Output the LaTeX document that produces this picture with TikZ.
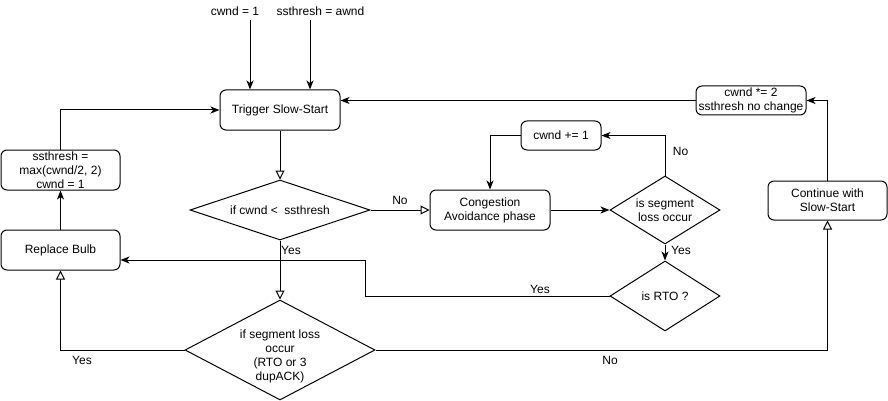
\documentclass[tikz,border=0pt]{standalone}
\usepackage{fontspec}
\setmainfont{Liberation Sans}
\usetikzlibrary{shapes.geometric,arrows.meta}
\begin{document}
\begin{tikzpicture}[x=1pt,y=-1pt,
  every node/.style={font=\fontsize{12}{14}\selectfont},
  box/.style={draw, rounded corners=6pt, line width=1pt, inner sep=0pt, align=center},
  dia/.style={draw, diamond, line width=1pt, inner sep=0pt},
  lbl/.style={inner sep=0pt, align=center},
  conn/.style={line width=1pt},
  fa/.style={conn, -{Stealth[length=9pt,width=7pt,inset=2.5pt]}},
  oa/.style={conn, -{Triangle[open,length=9pt,width=9pt,fill=white]}},
]
\useasboundingbox (0,0) rectangle (888,401);

% boxes
\node[box, minimum width=120, minimum height=40] (trig) at (280,110) {Trigger Slow-Start};
\node[box, minimum width=119, minimum height=40] (ssth) at (60.5,170) {ssthresh =\\max(cwnd/2, 2)\\cwnd = 1};
\node[box, minimum width=119, minimum height=40] (bulb) at (60.5,250) {Replace Bulb};
\node[box, minimum width=120, minimum height=40] (cong) at (490,210) {Congestion\\Avoidance phase};
\node[box, minimum width=80, minimum height=29] (inc) at (561,135.5) {cwnd += 1};
\node[box, minimum width=110, minimum height=29] (dbl) at (751,100.5) {cwnd *= 2\\ssthresh no change};
\node[box, minimum width=119, minimum height=39] (cont) at (827.5,200.5) {Continue with\\Slow-Start};

% diamonds
\node[dia, minimum width=180, minimum height=60] (d1) at (280,210) {};
\node[lbl] (d1t) at (d1.center) {if cwnd <\ \ ssthresh};
\node[dia, minimum width=110, minimum height=68] (d2) at (665,210) {};
\node[lbl] (d2t) at (d2.center) {is segment\\loss occur};
\node[dia, minimum width=110, minimum height=70] (d3) at (665,296) {};
\node[lbl] (d3t) at (d3.center) {is RTO ?};
\node[dia, minimum width=190, minimum height=100] (d4) at (280,350) {};
\node[lbl] (d4t) at ([yshift=-6pt]d4.center) {if segment loss\\occur\\(RTO or 3\\dupACK)};

% top inputs
\node[lbl] (t1) at (235,11) {cwnd = 1};
\node[lbl] (t2) at (320.5,11) {ssthresh = awnd};
\coordinate (s1) at (250,20);
\coordinate (s2) at (310,20);
\draw[fa] (s1) -- (trig.north -| s1);
\draw[fa] (s2) -- (trig.north -| s2);

% connectors
\draw[fa] (ssth.north) |- (trig.west);
\draw[fa] (bulb.north) -- (ssth.south);
\draw[oa] (trig.south) -- (d1.north);
\draw[oa] (d1.east) -- (cong.west);
\draw[fa] (inc.west) -| (cong.north);
\draw[fa] (d2.north) |- (inc.east);
\draw[fa] (cong.east) -- (d2.west);
\draw[fa] (d2.south) -- (d3.north);
\coordinate (bulbin) at ([yshift=-10pt]bulb.east);
\draw[fa] (d3.west) -- ++(-244,0) |- (bulbin);
\draw[oa] (d1.south) -- (d4.north);
\draw[oa] (d4.west) -| (bulb.south);
\draw[oa] (d4.east) -| (cont.south);
\draw[fa] (cont.north) |- (dbl.east);
\draw[fa] (dbl.west) -- (trig.east |- dbl.west);

% labels
\node[lbl] (lno1) at (400,200) {No};
\node[lbl] (lyes1) at (291,250) {Yes};
\node[lbl] (lno2) at (680.5,151) {No};
\node[lbl] (lyes2) at (681,250) {Yes};
\node[lbl] (lyes3) at (540,289) {Yes};
\node[lbl] (lyes4) at (82,360) {Yes};
\node[lbl] (lno3) at (610,360) {No};
\end{tikzpicture}
\end{document}
